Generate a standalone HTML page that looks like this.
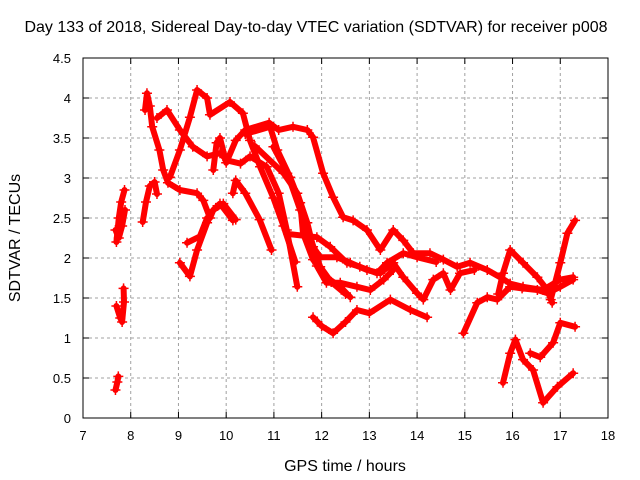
<!DOCTYPE html>
<html><head><meta charset="utf-8"><style>
html,body{margin:0;padding:0;background:#fff;}
svg{display:block;font-family:"Liberation Sans",sans-serif;}
</style></head><body>
<svg id="chart" width="640" height="480" viewBox="0 0 640 480">
<rect x="0" y="0" width="640" height="480" fill="#fff"/>
<text x="316" y="32" font-size="16" text-anchor="middle">Day 133 of 2018, Sidereal Day-to-day VTEC variation (SDTVAR) for receiver p008</text>
<text x="345" y="471" font-size="16" text-anchor="middle">GPS time / hours</text>
<text transform="translate(20,238) rotate(-90)" font-size="16" text-anchor="middle">SDTVAR / TECUs</text>
<g id="grid"></g><g id="ticks"></g><g id="marks"></g>
<rect x="83" y="58" width="525" height="360" fill="none" stroke="#000" stroke-width="1"/>
</svg>
<script>
const xTicks=[7,8,9,10,11,12,13,14,15,16,17,18];
const yTicks=[0,0.5,1,1.5,2,2.5,3,3.5,4,4.5];
const yTickLabels=["0","0.5","1","1.5","2","2.5","3","3.5","4","4.5"];
const track1=[[7.7,2.2],[7.75,2.5],[7.8,2.7],[7.87,2.85]];
const track2=[[7.68,2.35],[7.75,2.25],[7.82,2.4],[7.88,2.6]];
const track3=[[7.7,1.4],[7.78,1.25],[7.82,1.2],[7.86,1.45],[7.85,1.62]];
const track4=[[7.68,0.35],[7.72,0.45],[7.74,0.52]];
const track5=[[8.25,2.45],[8.32,2.7],[8.4,2.9],[8.5,2.95],[8.55,2.8]];
const track6=[[8.3,3.85],[8.34,4.06],[8.4,3.9],[8.45,3.64],[8.6,3.35],[8.68,3.1],[8.78,2.94],[9.03,2.85],[9.39,2.81],[9.52,2.72],[9.66,2.5],[9.73,2.6],[9.87,2.68],[10.14,2.47]];
const track7=[[9.03,1.94],[9.24,1.77],[9.39,2.1],[9.6,2.44],[9.73,2.6],[9.94,2.68],[10.2,2.48]];
const track8=[[9.18,2.19],[9.45,2.27],[9.6,2.5]];
const track9=[[8.55,3.75],[8.76,3.85],[9.03,3.6],[9.3,3.39],[9.6,3.27],[9.87,3.31],[10.02,3.22],[10.3,3.18],[10.5,3.27],[10.85,3.14],[11.1,2.81],[11.27,2.35],[11.49,1.64]];
const track10=[[8.82,3.01],[9.03,3.35],[9.24,3.76],[9.39,4.1],[9.6,4.0],[9.66,3.79],[10.08,3.95],[10.35,3.81],[10.5,3.47],[10.71,3.14],[10.99,2.75],[11.2,2.4],[11.45,1.95]];
const track11=[[9.73,3.1],[9.8,3.44],[9.87,3.5],[10.0,3.19],[10.2,3.47],[10.4,3.6],[10.9,3.69],[11.1,3.6],[11.4,3.64],[11.7,3.6],[11.82,3.51],[12.03,3.06],[12.24,2.76],[12.45,2.51],[12.66,2.47],[12.95,2.35],[13.23,2.1],[13.5,2.35],[13.71,2.22],[13.92,2.06],[14.27,2.06],[14.55,1.98],[14.84,1.89],[15.11,1.94],[15.47,1.85],[15.74,1.76],[15.95,1.68],[16.22,1.64],[16.64,1.6],[17.0,1.73],[17.27,1.76]];
const track12=[[10.4,3.55],[10.92,3.64],[11.07,3.35],[11.34,3.01],[11.55,2.69],[11.61,2.31],[11.82,1.98],[12.1,1.76],[12.39,1.64],[12.6,1.51]];
const track13=[[10.6,3.4],[11.2,3.06],[11.49,2.81],[11.7,2.44],[11.82,2.14],[11.97,2.01],[12.32,2.01],[12.6,1.94],[12.95,1.85],[13.23,1.81],[13.5,1.94],[13.71,1.76],[14.0,1.56],[14.13,1.48],[14.34,1.73],[14.55,1.81],[14.7,1.6],[14.9,1.81],[15.2,1.85]];
const track14=[[11.3,2.3],[11.9,2.26],[12.18,2.14],[12.53,1.94],[12.8,1.89],[13.16,1.81],[13.37,1.94],[13.71,2.06],[14.0,2.01],[14.4,1.95]];
const track15=[[11.9,1.9],[12.1,1.69],[12.39,1.69],[12.74,1.64],[13.02,1.6],[13.3,1.73],[13.5,1.85]];
const track16=[[10.14,2.81],[10.2,2.97],[10.4,2.81],[10.7,2.48],[10.95,2.1]];
const track17=[[10.99,3.39],[11.28,3.06],[11.55,2.6],[11.76,2.26],[11.97,1.89],[12.2,1.7],[12.5,1.55]];
const track18=[[11.82,1.26],[12.0,1.15],[12.24,1.06],[12.5,1.2],[12.74,1.35],[13.0,1.31],[13.44,1.48],[13.86,1.35],[14.21,1.26]];
const track19=[[14.97,1.06],[15.26,1.44],[15.47,1.51],[15.68,1.48],[15.95,1.64],[16.2,1.62],[16.52,1.6],[16.73,1.56],[17.0,1.64],[17.27,1.73]];
const track20=[[15.7,1.55],[15.8,1.81],[15.95,2.1],[16.22,1.94],[16.52,1.76],[16.73,1.6],[16.83,1.44]];
const track21=[[16.8,1.48],[17.0,1.94],[17.15,2.31],[17.31,2.47]];
const track22=[[15.8,0.44],[15.95,0.81],[16.06,0.98],[16.22,0.73],[16.43,0.6],[16.64,0.19],[16.94,0.39],[17.27,0.56]];
const track23=[[16.37,0.81],[16.58,0.76],[16.85,0.94],[17.0,1.19],[17.31,1.14]];
const tracks=[track1,track2,track3,track4,track5,track6,track7,track8,track9,track10,track11,track12,track13,track14,track15,track16,track17,track18,track19,track20,track21,track22,track23];

const NS="http://www.w3.org/2000/svg";
const X0=83,X1=608,Y0=418,Y1=58;
function xs(t){return X0+(t-7)/(18-7)*(X1-X0);}
function ys(v){return Y0-(v/4.5)*(Y0-Y1);}
const grid=document.getElementById('grid'),ticks=document.getElementById('ticks'),marks=document.getElementById('marks');
function mk(tag,attrs,parent){const e=document.createElementNS(NS,tag);for(const k in attrs)e.setAttribute(k,attrs[k]);parent.appendChild(e);return e;}
xTicks.forEach(function(t,i){
  const x=xs(t);
  if(i>0&&i<xTicks.length-1){const g=mk('line',{x1:x,y1:Y0,x2:x,y2:Y1,stroke:'#a0a0a0','stroke-dasharray':'3,3'},grid);
  
  }
  mk('line',{x1:x,y1:Y0,x2:x,y2:Y0-6,stroke:'#000'},ticks);
  mk('line',{x1:x,y1:Y1,x2:x,y2:Y1+6,stroke:'#000'},ticks);
  const l=mk('text',{x:x,y:Y0+22,'font-size':13,'text-anchor':'middle'},ticks);
  l.textContent=String(t);
  
  
});
yTicks.forEach(function(v,i){
  const y=ys(v);
  if(i>0&&i<yTicks.length-1){const g=mk('line',{x1:X0,y1:y,x2:X1,y2:y,stroke:'#a0a0a0','stroke-dasharray':'3,3'},grid);
  
  }
  mk('line',{x1:X0,y1:y,x2:X0+6,y2:y,stroke:'#000'},ticks);
  mk('line',{x1:X1,y1:y,x2:X1-6,y2:y,stroke:'#000'},ticks);
  const l=mk('text',{x:X0-12,y:y+5,'font-size':13,'text-anchor':'end'},ticks);
  l.textContent=yTickLabels[i];
  
  
});
tracks.forEach(function(tr,i){
  const pts=tr.map(function(p){return xs(p[0]).toFixed(1)+','+ys(p[1]).toFixed(1);}).join(' ');
  const pl=mk('polyline',{points:pts,fill:'none',stroke:'#ff0000','stroke-width':6,'stroke-linejoin':'round','stroke-linecap':'round'},marks);
  
  
  tr.forEach(function(p){
    const x=xs(p[0]),y=ys(p[1]);
    const m=mk('path',{d:'M'+(x-5)+','+y+'H'+(x+5)+'M'+x+','+(y-5)+'V'+(y+5),stroke:'#ff0000','stroke-width':1.5},marks);
    
    
  });
});
</script>
</body></html>
